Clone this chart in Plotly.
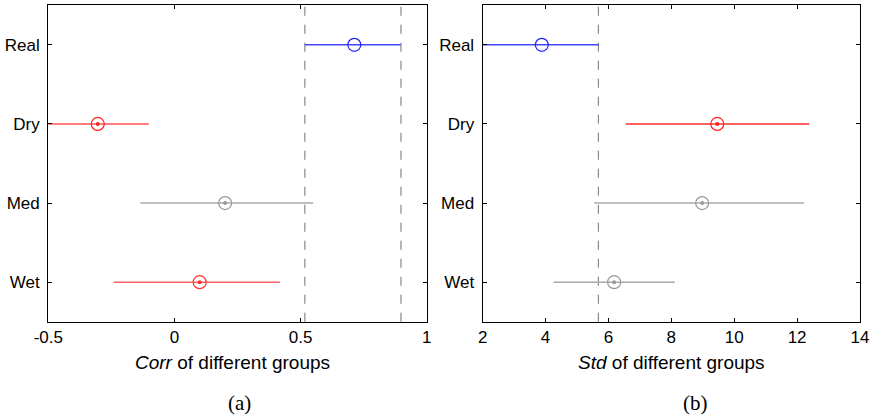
import plotly.graph_objects as go

groups = ["Real", "Dry", "Med", "Wet"]

corr_center = [0.713, -0.304, 0.201, 0.100]
corr_low = [0.517, -0.62, -0.135, -0.241]
corr_high = [0.897, -0.102, 0.550, 0.418]
corr_ref = [0.517, 0.898]

std_center = [3.88, 9.46, 8.98, 6.18]
std_low = [1.6, 6.55, 5.55, 4.25]
std_high = [5.69, 12.39, 12.22, 8.11]
std_ref = [5.68]

corr_colors = ["#2020ff", "#ff2020", "#999999", "#ff3030"]
corr_line_colors = ["#4444ff", "#ff5050", "#aaaaaa", "#ff6060"]
std_colors = ["#2020ff", "#ff2020", "#999999", "#999999"]
std_line_colors = ["#4444ff", "#ff3030", "#aaaaaa", "#aaaaaa"]
has_dot = [False, True, True, True]

W, H = 871, 416
fig = go.Figure()

def add_panel(xa, ya, center, low, high, colors, lcolors):
    for i, g in enumerate(groups):
        fig.add_trace(go.Scatter(
            x=[center[i]], y=[g], mode="markers",
            xaxis=xa, yaxis=ya, showlegend=False,
            marker=dict(symbol="circle-open", size=13, color=colors[i],
                        line=dict(color=colors[i], width=1.2)),
            error_x=dict(type="data", symmetric=False,
                         array=[high[i] - center[i]],
                         arrayminus=[center[i] - low[i]],
                         color=lcolors[i], thickness=1.5, width=0),
        ))
        if has_dot[i]:
            fig.add_trace(go.Scatter(
                x=[center[i]], y=[g], mode="markers",
                xaxis=xa, yaxis=ya, showlegend=False,
                marker=dict(symbol="circle", size=4, color=colors[i],
                            line=dict(width=0)),
            ))

add_panel("x", "y", corr_center, corr_low, corr_high, corr_colors, corr_line_colors)
add_panel("x2", "y2", std_center, std_low, std_high, std_colors, std_line_colors)

shapes = []
for v in corr_ref:
    shapes.append(dict(type="line", xref="x", yref="y domain", x0=v, x1=v, y0=0, y1=1,
                       line=dict(color="#888888", width=1.2, dash="dash"), layer="below"))
for v in std_ref:
    shapes.append(dict(type="line", xref="x2", yref="y2 domain", x0=v, x1=v, y0=0, y1=1,
                       line=dict(color="#888888", width=1.2, dash="dash"), layer="below"))

font = dict(family="Liberation Sans, Arial, sans-serif", size=17, color="black")
title_font = dict(family="Liberation Sans, Arial, sans-serif", size=19, color="black")
cap_font = dict(family="Liberation Serif, Times New Roman, serif", size=21, color="black")
axis_common = dict(showline=True, linecolor="black", linewidth=1.3, mirror="ticks",
                   ticks="inside", ticklen=4, tickcolor="black", showgrid=False,
                   zeroline=False, tickfont=font, automargin=False)

y_top = 1 - 5.3 / H
y_bot = 1 - 321.7 / H

fig.update_layout(
    width=W, height=H, margin=dict(l=0, r=0, t=0, b=0, autoexpand=False),
    paper_bgcolor="white", plot_bgcolor="white",
    shapes=shapes,
    xaxis=dict(domain=[48.3 / W, 426.7 / W], range=[-0.5, 1.0],
               tickvals=[-0.5, 0, 0.5, 1], ticktext=["-0.5", "0", "0.5", "1"],
               anchor="y", **axis_common),
    yaxis=dict(domain=[y_bot, y_top], type="category", categoryorder="array",
               categoryarray=groups, range=[3.5, -0.5], anchor="x",
               ticklabelstandoff=4, **axis_common),
    xaxis2=dict(domain=[482.7 / W, 860 / W], range=[2, 14],
                tickvals=[2, 4, 6, 8, 10, 12, 14], anchor="y2", **axis_common),
    yaxis2=dict(domain=[y_bot, y_top], type="category", categoryorder="array",
                categoryarray=groups, range=[3.5, -0.5], anchor="x2",
                ticklabelstandoff=4, **axis_common),
    annotations=[
        dict(text="<i>Corr</i> of different groups", xref="paper", yref="paper",
             x=232 / W, y=1 - 362 / H, showarrow=False, font=title_font,
             xanchor="center", yanchor="middle"),
        dict(text="<i>Std</i> of different groups", xref="paper", yref="paper",
             x=671 / W, y=1 - 362 / H, showarrow=False, font=title_font,
             xanchor="center", yanchor="middle"),
        dict(text="(a)", xref="paper", yref="paper", x=239 / W, y=1 - 403 / H,
             showarrow=False, xanchor="center", yanchor="middle", font=cap_font),
        dict(text="(b)", xref="paper", yref="paper", x=695 / W, y=1 - 403 / H,
             showarrow=False, xanchor="center", yanchor="middle", font=cap_font),
    ],
)

fig.write_html("out.html", config={"displayModeBar": False},
               post_script="document.body.style.margin='0px';")
